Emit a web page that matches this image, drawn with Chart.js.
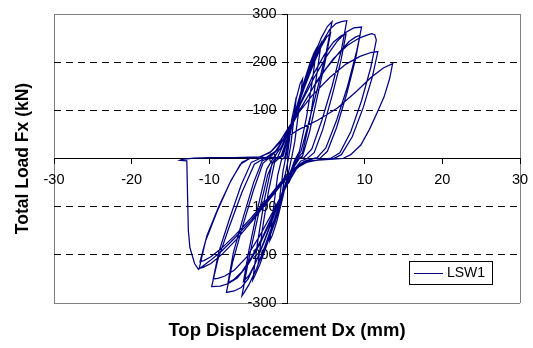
<!DOCTYPE html>
<html>
<head>
<meta charset="utf-8">
<script src="https://cdn.jsdelivr.net/npm/chart.js@4.4.1/dist/chart.umd.min.js"></script>
<style>
  html, body { margin: 0; padding: 0; background: #fff; }
  canvas { display: block; }
</style>
</head>
<body>
<canvas id="chartLsw1" width="533" height="348"></canvas>
<script>
// LSW1 hysteresis (x = Dx mm, y = Fx kN)
const c01x = [0, 0.4, 0.8, 1.2, 0.9, 0.5, 0.2, -0.3, -0.8, -1.2, -0.9, -0.5, -0.2];
const c01y = [0, 50, 95, 128, 85, 30, 2, -40, -90, -120, -75, -25, 0];
const c02x = [0.1, 0.6, 1.2, 1.7, 2.0, 1.6, 1.0, 0.6, 0.1, -0.6, -1.3, -1.9, -2.2, -1.8, -1.2, -0.7];
const c02y = [25, 80, 125, 156, 165, 110, 35, 2, -35, -85, -130, -160, -170, -110, -35, -2];
const c03x = [-0.3, 0.3, 1.2, 2.2, 3.0, 3.5, 3.8, 3.3, 2.5, 1.6, 1.0, 0.4, -0.5, -1.5, -2.5, -3.2, -3.7, -3.2, -2.4, -1.6, -1.0];
const c03y = [2, 45, 105, 160, 200, 220, 229, 165, 85, 15, -3, -30, -75, -130, -175, -202, -217, -150, -70, -8, 1];
const c04x = [-0.5, 0.2, 1.2, 2.3, 3.3, 4.0, 4.4, 3.8, 3.0, 2.0, 1.2, 0.5, -0.5, -1.5, -2.5, -3.5, -4.1, -4.4, -3.8, -2.9, -1.9, -1.2];
const c04y = [5, 45, 100, 155, 200, 228, 240, 170, 85, 12, -2, -25, -70, -125, -175, -220, -242, -252, -175, -85, -8, 2];
const c05x = [-0.6, 0.2, 1.2, 2.3, 3.4, 4.4, 5.2, 5.8, 5.1, 4.0, 2.8, 1.8, 1.2, 0.5, -0.5, -1.6, -2.8, -3.9, -4.9, -5.5, -5.8, -5.0, -3.8, -2.5, -1.6, -1.0];
const c05y = [6, 50, 105, 160, 210, 250, 274, 284, 225, 150, 75, 15, 0, -25, -70, -125, -180, -228, -262, -278, -285, -215, -125, -35, 0, 3];
const c06x = [-0.8, 0, 1.1, 2.3, 3.4, 4.4, 5.1, 5.6, 4.9, 3.9, 2.9, 2.0, 1.5, 0.6, -0.5, -1.7, -2.9, -4.0, -4.9, -5.6, -4.9, -3.8, -2.6, -1.8, -1.1];
const c06y = [4, 40, 95, 150, 195, 232, 252, 260, 200, 128, 55, 5, 0, -22, -65, -120, -172, -215, -243, -255, -190, -105, -22, 0, 3];
const c07x = [-1.2, -0.3, 0.8, 2.0, 3.3, 4.5, 5.5, 6.3, 7.0, 7.7, 7.0, 5.8, 4.5, 3.2, 2.2, 1.6, 0.8, -0.3, -1.5, -2.8, -4.0, -5.0, -5.9, -6.8, -7.8, -7.0, -5.7, -4.3, -3.1, -2.3, -1.6];
const c07y = [3, 35, 85, 140, 195, 240, 268, 280, 284, 286, 225, 150, 80, 20, 2, 0, -20, -60, -110, -165, -215, -250, -268, -275, -278, -215, -140, -65, -10, 1, 3];
const c08x = [-1.6, -0.6, 0.6, 2.0, 3.4, 4.8, 6.0, 7.0, 7.6, 6.9, 5.8, 4.6, 3.5, 2.6, 1.8, 0.8, -0.4, -1.8, -3.2, -4.6, -5.8, -6.9, -7.6, -6.9, -5.6, -4.3, -3.2, -2.4, -1.7];
const c08y = [3, 28, 75, 125, 175, 215, 242, 255, 258, 200, 130, 60, 12, 0, -5, -25, -65, -115, -165, -205, -235, -252, -258, -195, -120, -50, -5, 1, 3];
const c09x = [-1.7, -0.8, 0.4, 1.8, 3.4, 5.0, 6.4, 7.6, 8.6, 9.6, 9.0, 7.8, 6.4, 5.0, 3.9, 3.3, 2.2, 1.0, -0.3, -1.8, -3.4, -5.0, -6.4, -7.6, -8.6, -9.7, -8.9, -7.4, -5.8, -4.2, -3.0, -2.2];
const c09y = [3, 22, 65, 115, 165, 210, 242, 262, 271, 273, 225, 150, 80, 22, 2, 0, -6, -25, -65, -120, -175, -220, -248, -260, -265, -266, -210, -140, -70, -12, 0, 3];
const c10x = [-2.2, -1.2, 0, 1.6, 3.4, 5.2, 6.8, 8.0, 8.8, 9.4, 8.8, 7.7, 6.4, 5.2, 4.3, 3.5, 2.4, 1.2, -0.2, -1.8, -3.5, -5.2, -6.8, -8.0, -8.9, -9.5, -8.8, -7.4, -5.9, -4.6, -3.5, -2.6];
const c10y = [3, 18, 55, 100, 148, 190, 222, 243, 252, 256, 205, 135, 65, 15, 1, 0, -6, -22, -60, -110, -160, -205, -232, -244, -249, -250, -195, -125, -55, -8, 0, 3];
const c11x = [-2.6, -1.5, 0, 2.0, 4.0, 6.0, 7.8, 9.3, 10.3, 10.9, 11.3, 11.5, 10.8, 9.6, 8.2, 6.8, 5.7, 5.2, 4.0, 2.5, 1.0, -0.5, -2.5, -4.5, -6.5, -8.3, -9.8, -10.8, -11.3, -10.5, -9.0, -7.4, -6.0, -4.8, -3.6];
const c11y = [3, 15, 50, 110, 165, 208, 235, 250, 256, 259, 257, 246, 190, 120, 55, 12, 1, 0, -3, -8, -22, -50, -90, -130, -168, -198, -218, -226, -228, -172, -110, -52, -12, 0, 3];
const c12x = [-3.6, -2.2, -0.8, 1.0, 3.2, 5.5, 7.6, 9.4, 10.8, 11.7, 11.0, 9.8, 8.4, 7.0, 6.0, 5.5, 4.2, 2.6, 1.0, -0.6, -2.6, -4.6, -6.6, -8.4, -9.8, -10.7, -11.2, -10.3, -8.8, -7.2, -5.8, -4.8, -3.5];
const c12y = [3, 12, 38, 85, 130, 168, 196, 212, 220, 222, 170, 105, 45, 8, 0, 0, -3, -7, -20, -45, -85, -123, -158, -186, -204, -212, -214, -160, -100, -45, -8, 0, 3];
// last cycle, then the drop in load on the negative side
const c13x = [-3.5, -2.0, -0.5, 1.5, 4.0, 6.5, 9.0, 10.8, 12.4, 13.6, 13.2, 12.5, 11.6, 10.6, 9.5, 8.2, 7.2, 5.5, 3.5, 2.0, 0.8, -0.6, -2.6, -4.6, -6.6, -8.4, -9.9, -10.9, -11.4, -11.9, -12.5, -12.7, -12.8, -12.9, -13.8, -13.5, -12.0, -10.0, -7.0, -4.5, -3.0];
const c13y = [3, 15, 40, 60, 80, 105, 140, 168, 188, 197, 165, 128, 95, 60, 28, 8, 0, -2, -4, -8, -22, -48, -88, -128, -163, -192, -212, -224, -230, -218, -185, -150, -80, -5, -4, -2, 1, 2, 2, 3, 3];

const cyclesX = [c01x, c02x, c03x, c04x, c05x, c06x, c07x, c08x, c09x, c10x, c11x, c12x, c13x];
const cyclesY = [c01y, c02y, c03y, c04y, c05y, c06y, c07y, c08y, c09y, c10y, c11y, c12y, c13y];

const xTicks = [-30, -20, -10, 0, 10, 20, 30];
const yTicks = [-300, -200, -100, 0, 100, 200, 300];
const seriesName = "LSW1";
const xTitle = "Top Displacement Dx (mm)";
const yTitle = "Total Load Fx (kN)";

const points = [];
cyclesX.forEach((xs, i) => xs.forEach((x, j) => points.push({ x: x, y: cyclesY[i][j] })));

const FONT = "'Liberation Sans', Arial, sans-serif";
Chart.defaults.font.family = FONT;
Chart.defaults.color = "#000";

// small boxed legend in the lower right of the plot, like the Excel one
const legendBox = {
  id: "legendBox",
  afterDraw(chart) {
    const { ctx, chartArea } = chart;
    const w = 83, h = 23;
    const x = chartArea.right - 28 - w;
    const y = chartArea.bottom - 19 - h;
    const ds = chart.data.datasets[0];
    ctx.save();
    ctx.fillStyle = "#fff";
    ctx.fillRect(x, y, w, h);
    ctx.strokeStyle = "#000";
    ctx.lineWidth = 1;
    ctx.strokeRect(x + 0.5, y + 0.5, w, h);
    ctx.strokeStyle = ds.borderColor;
    ctx.beginPath();
    ctx.moveTo(x + 5, y + 12.5);
    ctx.lineTo(x + 34, y + 12.5);
    ctx.stroke();
    ctx.fillStyle = "#000";
    ctx.font = "14px " + FONT;
    ctx.textBaseline = "middle";
    ctx.fillText(ds.label, x + 38, y + 12.5);
    ctx.restore();
  },
};

const tickSetter = (list) => (s) => { s.ticks = list.map((v) => ({ value: v })); };

new Chart(document.getElementById("chartLsw1"), {
  type: "scatter",
  data: {
    datasets: [{
      label: seriesName,
      data: points,
      showLine: true,
      borderColor: "#000080",
      backgroundColor: "#000080",
      borderWidth: 1.25,
      pointRadius: 0,
      tension: 0,
    }],
  },
  options: {
    responsive: false,
    animation: false,
    layout: { padding: { top: 14, right: 13, left: 0, bottom: 0 } },
    plugins: { legend: { display: false }, tooltip: { enabled: false } },
    scales: {
      x: {
        type: "linear", min: -30, max: 30, position: { y: 0 },
        afterBuildTicks: tickSetter(xTicks),
        // the end labels may hang over the plot edge, don't let them shrink it
        afterFit: (s) => { s.paddingLeft = 0; s.paddingRight = 0; },
        ticks: { font: { size: 14.5 }, padding: 8, maxRotation: 0, autoSkip: false },
        grid: { color: (c) => (c.tick && Math.abs(c.tick.value) === 30 ? "#808080" : "transparent"), tickLength: 5, tickColor: "#000" },
        border: { color: "#000" },
      },
      y: {
        type: "linear", min: -300, max: 300, position: { x: 0 },
        afterBuildTicks: tickSetter(yTicks),
        ticks: { display: false },
        grid: {
          color: (c) => (!c.tick || c.tick.value === 0 ? "transparent" : Math.abs(c.tick.value) === 300 ? "#808080" : "#000"),
          tickLength: 5, tickColor: "#000",
        },
        border: { color: "#000", dash: (c) => (c.tick && Math.abs(c.tick.value) % 300 ? [7, 5] : []) },
      },
      // carries the y tick labels, a little left of the centre axis as in Excel
      yLabels: {
        axis: "y", type: "linear", min: -300, max: 300, position: { x: -1.35 },
        afterBuildTicks: tickSetter(yTicks),
        ticks: { font: { size: 14.5 } },
        grid: { display: false, drawTicks: false }, border: { display: false },
      },
      xTitleAxis: {
        axis: "x", type: "linear", position: "bottom",
        ticks: { display: false }, grid: { display: false, drawTicks: false }, border: { display: false },
        title: { display: true, text: xTitle, font: { size: 18.5, weight: "bold" }, padding: { top: 16.9, bottom: 5.9 } },
      },
      yTitleAxis: {
        axis: "y", type: "linear", position: "left",
        ticks: { display: false }, grid: { display: false, drawTicks: false }, border: { display: false },
        title: { display: true, text: yTitle, font: { size: 17.5, weight: "bold" }, padding: { top: 12.5, bottom: 20.5 } },
      },
    },
  },
  plugins: [legendBox],
});
</script>
</body>
</html>
